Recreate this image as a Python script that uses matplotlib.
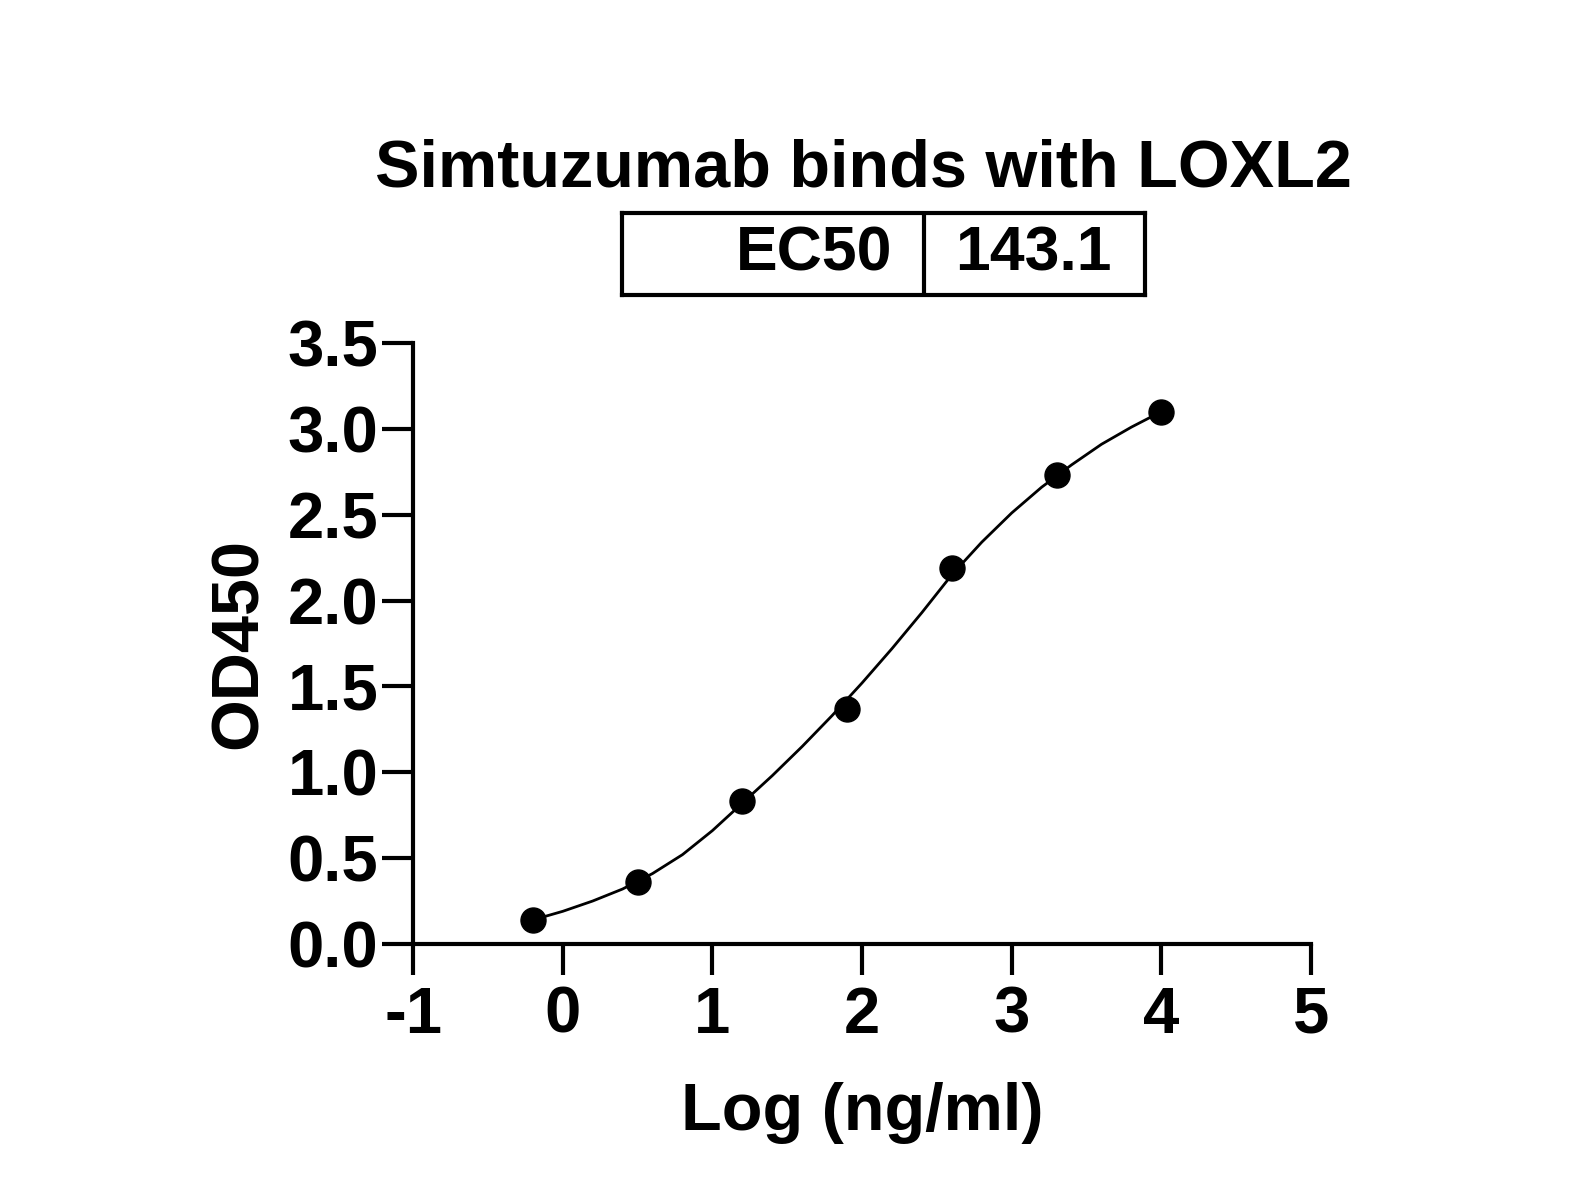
import matplotlib
matplotlib.use("Agg")
import matplotlib.pyplot as plt

# measured points (log ng/ml vs OD450)
log_conc = [-0.2, 0.5, 1.2, 1.9, 2.6, 3.3, 4.0]
od450 = [0.14, 0.36, 0.83, 1.37, 2.19, 2.73, 3.10]

# fitted curve
curve_x = [-0.2, 0.0, 0.2, 0.4, 0.6, 0.8, 1.0, 1.2, 1.4, 1.6, 1.8, 2.0,
           2.2, 2.4, 2.6, 2.8, 3.0, 3.2, 3.4, 3.6, 3.8, 4.0]
curve_y = [0.14, 0.19, 0.25, 0.32, 0.41, 0.52, 0.66, 0.82, 0.98, 1.15, 1.33, 1.52,
           1.72, 1.93, 2.15, 2.34, 2.51, 2.66, 2.79, 2.91, 3.01, 3.10]

title = "Simtuzumab binds with LOXL2"
ec50_label = "EC50"
ec50_value = "143.1"

plt.rcParams['font.family'] = ['Liberation Sans', 'DejaVu Sans']
plt.rcParams['font.weight'] = 'bold'
plt.rcParams['axes.unicode_minus'] = False

fig = plt.figure(figsize=(15.79, 11.97), dpi=100)
ax = fig.add_axes([0.2616, 0.2114, 0.5687, 0.5021])

ax.plot(curve_x, curve_y, color='black', lw=2, zorder=2)
ax.plot(log_conc, od450, 'o', color='black', ms=18, zorder=3)

ax.set_xlim(-1, 5)
ax.set_ylim(0, 3.5)
ax.set_xticks(range(-1, 6))
ax.set_yticks([0, 0.5, 1.0, 1.5, 2.0, 2.5, 3.0, 3.5])
ax.set_yticklabels(["%.1f" % v for v in ax.get_yticks()])
for s in ['top', 'right']:
    ax.spines[s].set_visible(False)
for s in ['left', 'bottom']:
    ax.spines[s].set_linewidth(3)
ax.tick_params(width=3, length=22, labelsize=47, direction='out')
ax.tick_params(axis='y', pad=3)
ax.tick_params(axis='x', pad=8)
for lab in ax.get_xticklabels() + ax.get_yticklabels():
    lab.set_fontweight('bold')

ax.set_xlabel("Log (ng/ml)", fontsize=48, fontweight='bold', labelpad=26)
ax.set_ylabel("OD450", fontsize=48, fontweight='bold', labelpad=12)

fig.text(0.547, 0.858, title, ha='center', va='center', fontsize=48, fontweight='bold')

# EC50 table above the plot
tab = fig.add_axes([622 / 1579, 1 - 295 / 1197, (1145 - 622) / 1579, (295 - 213) / 1197])
tab.set_xlim(0, 1)
tab.set_ylim(0, 1)
tab.set_xticks([])
tab.set_yticks([])
for s in tab.spines.values():
    s.set_linewidth(3)
div = (924 - 622) / (1145 - 622)
tab.axvline(div, color='black', lw=3)
tab.text(div - 0.06, 0.5, ec50_label, ha='right', va='center', fontsize=45, fontweight='bold')
tab.text(div + 0.06, 0.5, ec50_value, ha='left', va='center', fontsize=45, fontweight='bold')

fig.savefig("out.png", dpi=100)
